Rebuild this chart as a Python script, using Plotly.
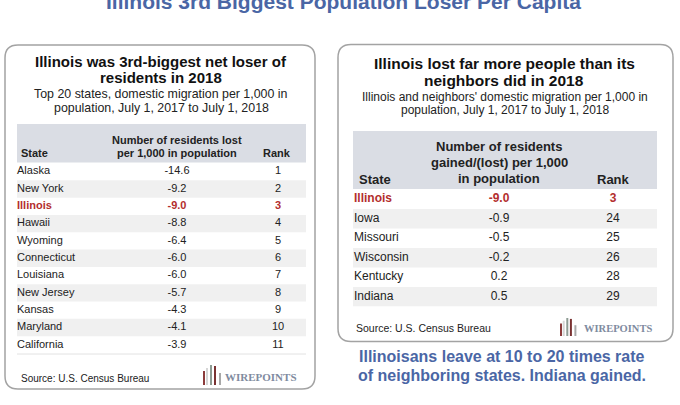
import plotly.graph_objects as go

# ---------------- data ----------------
left_states = ["Alaska", "New York", "Illinois", "Hawaii", "Wyoming", "Connecticut",
               "Louisiana", "New Jersey", "Kansas", "Maryland", "California"]
left_values = [-14.6, -9.2, -9.0, -8.8, -6.4, -6.0, -6.0, -5.7, -4.3, -4.1, -3.9]
left_ranks = [1, 2, 3, 4, 5, 6, 7, 8, 9, 10, 11]

right_states = ["Illinois", "Iowa", "Missouri", "Wisconsin", "Kentucky", "Indiana"]
right_values = [-9.0, -0.9, -0.5, -0.2, 0.2, 0.5]
right_ranks = [3, 24, 25, 26, 28, 29]

main_title = "Illinois 3rd Biggest Population Loser Per Capita"
left_title = ["Illinois was 3rd-biggest net loser of", "residents in 2018"]
left_sub = ["Top 20 states, domestic migration per 1,000 in", "population, July 1, 2017 to July 1, 2018"]
left_head = ["Number of residents lost", "per 1,000 in population"]
right_title = ["Illinois lost far more people than its", "neighbors did in 2018"]
right_sub = ["Illinois and neighbors' domestic migration per 1,000 in",
             "population, July 1, 2017 to July 1, 2018"]
right_head = ["Number of residents", "gained/(lost) per 1,000", "in population"]
source = "Source: U.S. Census Bureau"
caption = ["Illinoisans leave at 10 to 20 times rate", "of neighboring states. Indiana gained."]
highlight = "Illinois"

# ---------------- style ----------------
W, H = 680, 405
FONT = "Arial, Liberation Sans, sans-serif"
SERIF = "Liberation Serif, Times New Roman, serif"
BLUE = "#4a66a5"
RED = "#b32e2e"
TXT = "#222222"
HEAD_BG = "#dadde4"
STRIPE = "#f0f0f0"
BORDER = "#a3a3a3"

fig = go.Figure()


def fy(px):
    return 1 - px / H


def rrect(x0, y0, x1, y1, r):
    return (f"M {x0+r},{y0} L {x1-r},{y0} Q {x1},{y0} {x1},{y0+r} "
            f"L {x1},{y1-r} Q {x1},{y1} {x1-r},{y1} L {x0+r},{y1} "
            f"Q {x0},{y1} {x0},{y1-r} L {x0},{y0+r} Q {x0},{y0} {x0+r},{y0} Z")


def add_table(states, values, ranks, yaxis, x0, x1, xs, xv, xr, size):
    n = len(states)
    stripe_states = states[1::2]
    fig.add_trace(go.Bar(
        orientation="h", y=stripe_states, x=[x1 - x0] * len(stripe_states), base=x0,
        width=1, marker=dict(color=STRIPE, line=dict(width=0)),
        xaxis="x", yaxis=yaxis, hoverinfo="skip", showlegend=False))
    colors = [RED if s == highlight else TXT for s in states]

    def fmt(s, t):
        return f"<b>{t}</b>" if s == highlight else t

    fig.add_trace(go.Scatter(
        x=[xs] * n, y=states, mode="text",
        text=[fmt(s, s) for s in states], textposition="middle right",
        textfont=dict(family=FONT, size=size, color=colors),
        xaxis="x", yaxis=yaxis, hoverinfo="skip", showlegend=False))
    fig.add_trace(go.Scatter(
        x=[xv] * n, y=states, mode="text",
        text=[fmt(s, f"{v:.1f}") for s, v in zip(states, values)], textposition="middle center",
        textfont=dict(family=FONT, size=size, color=colors),
        xaxis="x", yaxis=yaxis, hoverinfo="skip", showlegend=False))
    fig.add_trace(go.Scatter(
        x=[xr] * n, y=states, mode="text",
        text=[fmt(s, str(r)) for s, r in zip(states, ranks)], textposition="middle center",
        textfont=dict(family=FONT, size=size, color=colors),
        xaxis="x", yaxis=yaxis, hoverinfo="skip", showlegend=False))


# tables
add_table(left_states, left_values, left_ranks, "y2", 17, 306, 17, 177, 278, 11)
add_table(right_states, right_values, right_ranks, "y3", 353, 657, 354, 499, 613, 12)

annotations = []


def txt(x, y, s, size, color=TXT, bold=False, xanchor="center", family=FONT):
    annotations.append(dict(
        x=x, y=y, xref="x", yref="y", text=f"<b>{s}</b>" if bold else s,
        showarrow=False, xanchor=xanchor, yanchor="middle",
        font=dict(family=family, size=size, color=color)))


# top title
txt(343, 1, main_title, 21, BLUE, True)

# left panel texts
txt(161, 61, left_title[0], 15, "#111111", True)
txt(161, 77.5, left_title[1], 15, "#111111", True)
txt(161, 94, left_sub[0], 12.4)
txt(161, 108, left_sub[1], 12.4)
txt(177, 139.5, left_head[0], 11, TXT, True)
txt(177, 153, left_head[1], 11, TXT, True)
txt(19, 153, "State", 11, TXT, True, "left")
txt(277, 153, "Rank", 11, TXT, True)
txt(19, 378, source, 10, TXT, False, "left")
txt(223, 377, "WIREPOINTS", 11, "#7f8ba0", True, "left", SERIF)

# right panel texts
txt(504, 63, right_title[0], 15.5, "#111111", True)
txt(504, 80, right_title[1], 15.5, "#111111", True)
txt(505, 96.5, right_sub[0], 12)
txt(505, 109.5, right_sub[1], 12)
txt(499, 146, right_head[0], 13, TXT, True)
txt(499, 162, right_head[1], 13, TXT, True)
txt(499, 178, right_head[2], 13, TXT, True)
txt(357, 179, "State", 13, TXT, True, "left")
txt(613, 179, "Rank", 13, TXT, True)
txt(354, 328, source, 10.5, TXT, False, "left")
txt(582, 328, "WIREPOINTS", 10.5, "#7f8ba0", True, "left", SERIF)

# caption
txt(502, 356, caption[0], 16, BLUE, True)
txt(502, 375, caption[1], 16, BLUE, True)

shapes = [
    dict(type="path", path=rrect(5, 45, 315, 389, 13), xref="x", yref="y",
         line=dict(color=BORDER, width=1.5), fillcolor="rgba(0,0,0,0)", layer="below"),
    dict(type="path", path=rrect(338, 44.5, 673, 341.5, 13), xref="x", yref="y",
         line=dict(color=BORDER, width=1.5), fillcolor="rgba(0,0,0,0)", layer="below"),
    dict(type="rect", x0=17, x1=306, y0=124, y1=162.5, xref="x", yref="y",
         line=dict(width=0), fillcolor=HEAD_BG, layer="below"),
    dict(type="rect", x0=353, x1=657, y0=131, y1=189, xref="x", yref="y",
         line=dict(width=0), fillcolor=HEAD_BG, layer="below"),
    dict(type="line", x0=17, x1=306, y0=354, y1=354, xref="x", yref="y",
         line=dict(color="#e2e2e2", width=1)),
]


def logo(xb, yb, scale=1.0):
    bars = [(0, 6, "#8c3b3b"), (3, 3, "#d6d6d6"), (7, 0, "#8e9c94"), (11, 1, "#7a3232"), (16, 8, "#a8a8a8")]
    for dx, top, col in bars:
        shapes.append(dict(type="rect", x0=xb + dx * scale, x1=xb + dx * scale + 2,
                           y0=yb - 20 * scale + top * scale, y1=yb, xref="x", yref="y",
                           line=dict(width=0), fillcolor=col))


logo(203, 385)
logo(560, 336, 0.9)

fig.update_layout(
    width=W, height=H, margin=dict(l=0, r=0, t=0, b=0),
    paper_bgcolor="white", plot_bgcolor="rgba(0,0,0,0)",
    showlegend=False, barmode="overlay",
    xaxis=dict(range=[0, W], visible=False, fixedrange=True),
    yaxis=dict(range=[H, 0], visible=False, fixedrange=True),
    yaxis2=dict(domain=[fy(353.5), fy(163)], type="category", categoryorder="array",
                categoryarray=left_states, range=[len(left_states) - 0.5, -0.5],
                visible=False, anchor="x", fixedrange=True),
    yaxis3=dict(domain=[fy(306.5), fy(189.5)], type="category", categoryorder="array",
                categoryarray=right_states, range=[len(right_states) - 0.5, -0.5],
                visible=False, anchor="x", fixedrange=True),
    annotations=annotations, shapes=shapes,
)

fig.write_html("out.html", config={"displayModeBar": False},
               post_script="document.body.style.margin='0px';document.body.style.overflow='hidden';")
